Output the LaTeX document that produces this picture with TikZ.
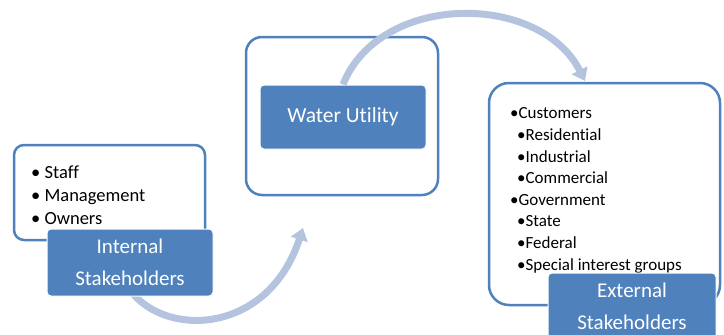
\documentclass[tikz,border=0pt]{standalone}
\usepackage{fontspec}
\setmainfont[Ligatures=NoCommon]{Carlito}
\usetikzlibrary{arrows.meta}

\definecolor{boxblue}{HTML}{4F81BD}
\definecolor{arcblue}{HTML}{B4C4DF}

\tikzset{
  whitebox/.style={draw=boxblue, line width=2.5pt, fill=white, rectangle},
  bluebox/.style={draw=white, line width=1pt, fill=boxblue, text=white,
    rounded corners=4pt, align=center, inner sep=0pt},
  listtext/.style={inner sep=0pt, align=left, anchor=base west},
  flowarrow/.style={draw=arcblue, line width=7pt,
    -{Triangle[width=17pt,length=12pt]}}
}

\begin{document}
\begin{tikzpicture}[x=1pt,y=-1pt]
\useasboundingbox (0,0) rectangle (724,335);

% the three outer boxes
\node[whitebox, rounded corners=10pt, minimum width=191pt, minimum height=95pt]
  (internal) at (109.5,192.5) {};
\node[whitebox, rounded corners=16pt, minimum width=192pt, minimum height=158pt]
  (utility) at (342,116) {};
\node[whitebox, rounded corners=20pt, minimum width=231pt, minimum height=222pt]
  (external) at (604.5,194) {};

% lists (base = baseline of the last line)
\node[listtext, font=\fontsize{18.5}{23}\selectfont] (intlist) at (31,224)
  {\textbullet\ Staff\\ \textbullet\ Management\\ \textbullet\ Owners};
\node[listtext, font=\fontsize{17}{21.6}\selectfont] (extlist) at (510,270)
  {\textbullet Customers\\
   \hspace*{7pt}\textbullet Residential\\
   \hspace*{7pt}\textbullet Industrial\\
   \hspace*{7pt}\textbullet Commercial\\
   \textbullet Government\\
   \hspace*{7pt}\textbullet State\\
   \hspace*{7pt}\textbullet Federal\\
   \hspace*{7pt}\textbullet Special interest groups};

% labels
\node[bluebox, minimum width=166pt, minimum height=64pt,
  font=\fontsize{21.5}{26}\selectfont] (wulabel) at (343,117) {Water Utility};
\coordinate (lowstart) at (130,290);
\coordinate (lowend) at (303,228);
\coordinate (upend) at (585,81);

% arcs
\draw[flowarrow] (lowstart) .. controls (165,338) and (268,335) .. (lowend);
\draw[flowarrow] (wulabel.north) .. controls (380,-8) and (540,-8) .. (upend);

\node[bluebox, minimum width=166pt, minimum height=67pt,
  font=\fontsize{21}{32}\selectfont] (intlabel) at (130,262.5)
  {Internal\\Stakeholders};
\node[bluebox, minimum width=168pt, minimum height=67pt,
  font=\fontsize{21}{32}\selectfont] (extlabel) at (632,306.5)
  {External\\Stakeholders};
\end{tikzpicture}
\end{document}
